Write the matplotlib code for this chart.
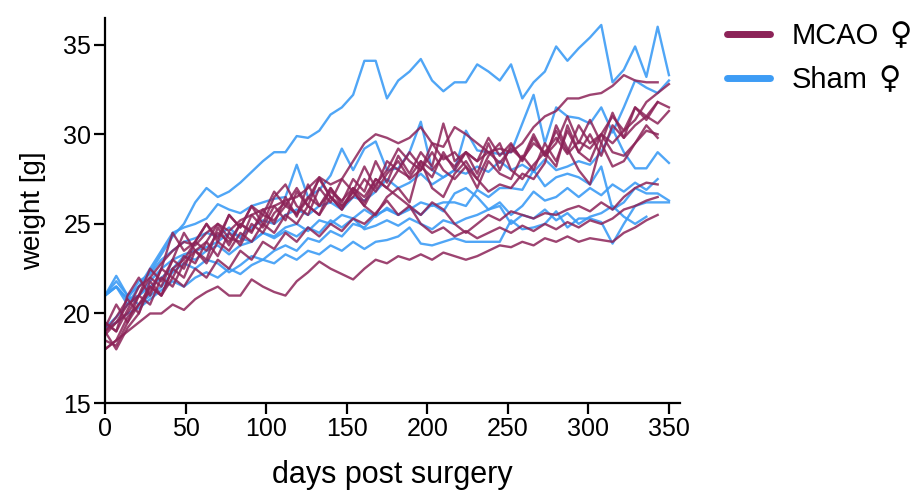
import numpy as np
import matplotlib
matplotlib.use("Agg")
import matplotlib.pyplot as plt
from matplotlib.lines import Line2D

plt.rcParams['font.family'] = ['Liberation Sans', 'DejaVu Sans']

# measurement days (weekly)
days = list(range(0, 351, 7))
nan = np.nan

# body weight [g], sham-operated females
sham = [
    [21.0, 21.8, 21.0, 21.5, 22.3, 23.3, 24.3, 25.0, 26.2, 27.0, 26.5, 26.8, 27.3, 27.9, 28.5, 29.0, 29.0,
     29.9, 29.8, 30.2, 31.1, 31.5, 32.2, 34.1, 34.1, 32.0, 33.0, 33.5, 34.2, 33.0, 32.4, 32.9, 32.9, 33.9,
     33.5, 33.0, 33.9, 32.0, 32.9, 33.5, 34.9, 34.1, 34.8, 35.4, 36.1, 32.9, 33.6, 34.9, 33.2, 36.0, 33.3],
    [21.0, 21.5, 20.5, 21.5, 22.5, 23.5, 24.5, 24.8, 25.0, 25.3, 26.1, 25.8, 25.6, 26.0, 26.2, 26.4, 26.5,
     28.3, 26.5, 26.9, 27.7, 29.2, 28.0, 29.2, 29.6, 28.0, 28.1, 29.0, 30.7, 28.0, 27.6, 28.0, 30.2, 29.1,
     29.0, 28.9, 29.0, 30.6, 32.2, 29.5, 31.5, 31.0, 30.9, 30.6, 31.5, 30.1, 31.5, 33.0, 32.6, 32.3, 33.0],
    [21.0, 21.5, 20.8, 21.0, 21.8, 22.5, 23.0, 23.3, 23.5, 23.7, 24.0, 24.5, 24.3, 24.8, 25.2, 25.0, 25.5,
     25.8, 25.5, 26.0, 26.2, 25.8, 26.5, 26.3, 26.8, 27.5, 27.0, 27.3, 27.8, 27.2, 27.6, 28.0, 27.8, 28.2,
     27.9, 28.5, 28.0, 28.3, 27.9, 28.6, 28.0, 28.2, 28.5, 28.3, 29.0, 30.3, 29.0, 28.1, 28.1, 29.0, 28.4],
    [19.2, 19.8, 20.5, 21.0, 21.5, 22.0, 22.5, 23.2, 23.0, 23.5, 23.8, 23.3, 23.8, 24.0, 24.5, 24.3, 24.8,
     25.0, 24.6, 25.2, 25.0, 25.5, 25.3, 25.8, 25.4, 25.9, 25.5, 25.8, 26.2, 26.0, 26.2, 26.2, 26.0, 26.9,
     26.5, 27.0, 27.0, 26.9, 28.0, 27.1, 27.6, 27.8, 27.6, 27.2, 28.2, 25.8, 26.2, 27.0, 26.7, 26.7, 26.3],
    [19.2, 19.5, 20.0, 20.3, 20.8, 21.3, 21.8, 21.5, 22.0, 22.3, 22.0, 22.5, 22.2, 22.7, 23.0, 22.8, 23.3,
     23.0, 23.5, 23.3, 23.8, 23.5, 24.0, 23.6, 24.0, 24.1, 24.3, 24.8, 23.9, 23.8, 24.0, 24.2, 24.0, 24.0,
     24.0, 24.0, 25.2, 24.7, 24.8, 25.0, 25.7, 24.8, 25.3, 25.3, 25.1, 23.9, 25.0, 26.0, 26.2, 26.2, 26.2],
    [21.0, 22.1, 21.0, 20.5, 21.0, 21.5, 22.3, 22.8, 22.5, 23.0, 22.8, 22.3, 22.7, 23.2, 23.0, 23.5, 23.8,
     23.5, 24.2, 24.0, 24.6, 24.3, 25.0, 24.8, 25.5, 25.8, 25.5, 25.9, 25.5, 26.1, 25.7, 26.7, 27.0, 26.5,
     25.8, 26.0, 25.0, 25.5, 25.3, 25.8, 25.2, 25.6, 25.0, 25.4, 25.6, 26.0, 25.4, 25.0, 25.4, nan, nan],
    [21.0, 21.5, 20.8, 21.8, 22.2, 23.0, 23.5, 24.0, 24.2, 24.5, 24.3, 24.8, 24.2, 24.0, 24.5, 24.2, 24.6,
     24.3, 24.8, 24.5, 25.2, 24.8, 25.3, 24.7, 24.9, 25.2, 24.9, 25.3, 25.0, 24.7, 25.2, 25.0, 25.3, 25.5,
     25.8, 26.2, 25.5, 26.0, 26.8, 26.3, 26.5, 27.0, 26.5, 27.0, 26.6, 27.2, 26.8, 27.3, 26.9, 27.5, nan],
]

# body weight [g], MCAO females
mcao = [
    [19.0, 19.5, 20.5, 21.0, 22.0, 22.8, 23.5, 24.0, 23.8, 24.5, 25.0, 24.6, 25.2, 25.5, 25.8, 26.0, 26.3,
     26.5, 27.0, 27.6, 27.2, 27.5, 28.5, 29.5, 30.0, 29.8, 29.5, 29.8, 30.4, 29.5, 29.3, 30.4, 30.0, 29.5,
     29.0, 29.2, 29.0, 29.5, 30.4, 31.0, 31.3, 32.0, 32.0, 32.2, 32.3, 32.7, 33.3, 33.0, 32.9, 32.9, nan],
    [18.5, 18.2, 19.5, 20.5, 21.5, 21.0, 22.5, 23.0, 24.0, 23.5, 24.5, 24.0, 25.0, 24.6, 25.5, 25.2, 26.0,
     25.6, 26.5, 26.0, 26.8, 26.3, 27.0, 26.5, 27.5, 27.0, 28.0, 27.6, 28.5, 28.0, 28.8, 28.2, 29.0, 28.5,
     29.0, 28.4, 29.2, 28.6, 29.5, 29.0, 29.8, 28.9, 29.6, 29.2, 30.0, 29.5, 30.2, 30.8, 31.8, 32.3, 32.8],
    [19.0, 18.0, 19.2, 20.0, 21.8, 21.0, 22.5, 22.0, 23.5, 23.0, 24.8, 23.8, 25.0, 24.5, 25.8, 25.0, 26.5,
     25.4, 27.2, 26.0, 27.0, 26.2, 27.5, 26.8, 28.5, 27.3, 28.8, 27.8, 29.0, 28.2, 30.6, 28.5, 29.0, 27.8,
     29.5, 28.0, 29.4, 28.6, 30.0, 28.8, 29.5, 31.0, 29.5, 30.8, 29.5, 31.2, 29.8, 31.5, 31.0, 31.8, 31.5],
    [19.5, 19.0, 20.2, 21.5, 22.0, 21.5, 23.0, 24.5, 23.5, 24.0, 25.0, 24.2, 24.0, 25.5, 24.8, 26.0, 25.2,
     26.8, 26.0, 25.5, 27.0, 26.0, 26.5, 27.5, 26.8, 27.8, 28.5, 27.5, 28.0, 29.0, 28.0, 27.5, 28.2, 27.0,
     28.5, 27.8, 27.5, 28.8, 28.0, 29.5, 28.5, 30.2, 29.0, 30.0, 28.8, 30.5, 29.8, 30.5, 31.0, 30.6, 31.3],
    [18.0, 18.5, 19.8, 20.5, 21.2, 22.5, 22.0, 23.2, 22.8, 24.0, 23.2, 24.5, 23.8, 25.0, 24.5, 25.6, 26.2,
     25.5, 26.4, 27.5, 26.5, 25.8, 26.8, 26.0, 25.5, 26.5, 27.0, 26.2, 28.5, 27.0, 26.5, 27.8, 28.5, 27.5,
     28.8, 29.5, 28.0, 27.5, 28.3, 29.0, 28.2, 30.5, 29.0, 28.5, 30.0, 29.0, 28.8, 29.5, 30.2, 30.0, nan],
    [19.2, 20.5, 19.5, 21.0, 22.5, 21.8, 23.0, 22.5, 24.0, 25.0, 24.0, 25.5, 24.8, 26.0, 25.0, 26.5, 27.2,
     26.0, 25.5, 27.0, 26.2, 27.5, 26.8, 26.0, 27.2, 28.0, 29.2, 28.5, 28.0, 29.5, 28.6, 29.0, 28.2, 27.5,
     26.8, 27.2, 27.0, 27.8, 27.5, 28.4, 30.5, 29.2, 28.0, 27.2, 29.5, 28.2, 28.5, 29.5, 30.5, 29.8, nan],
    [18.8, 19.5, 20.0, 21.0, 20.5, 22.0, 21.5, 22.8, 23.5, 22.8, 24.0, 23.5, 24.5, 24.0, 25.0, 24.5, 25.5,
     25.0, 26.0, 25.5, 26.5, 25.8, 27.0, 26.2, 27.5, 27.0, 26.5, 26.0, 25.5, 26.2, 25.8, 25.0, 24.5, 25.0,
     25.5, 25.2, 25.7, 25.5, 25.3, 25.6, 25.5, 25.8, 26.0, 25.7, 26.2, 25.8, 26.5, 27.0, 27.3, 27.2, nan],
    [19.0, 19.8, 20.8, 20.0, 21.5, 21.0, 22.0, 21.5, 22.5, 22.0, 23.0, 22.5, 23.5, 23.0, 24.0, 23.6, 24.5,
     24.0, 24.8, 24.3, 25.0, 24.6, 25.3, 25.0, 25.6, 26.3, 25.5, 26.0, 25.0, 24.5, 24.8, 24.3, 24.6, 24.2,
     24.5, 24.8, 24.5, 24.9, 24.6, 25.0, 24.7, 25.1, 24.8, 25.2, 25.0, 25.3, 25.8, 26.0, 26.3, 26.5, nan],
    [18.0, 18.5, 19.0, 19.5, 20.0, 20.0, 20.5, 20.2, 20.8, 21.2, 21.5, 21.0, 21.0, 21.9, 21.5, 21.2, 21.0,
     21.8, 22.3, 22.9, 22.5, 22.2, 21.9, 22.5, 23.0, 22.8, 23.2, 23.0, 23.3, 23.0, 23.4, 23.2, 23.0, 23.2,
     23.5, 23.8, 23.7, 24.0, 23.8, 24.2, 24.0, 24.3, 24.0, 24.2, 24.1, 24.0, 24.5, 24.8, 25.2, 25.5, nan],
    [19.5, 19.0, 21.0, 22.0, 21.0, 22.5, 24.5, 23.5, 24.0, 25.0, 24.2, 25.5, 24.8, 26.0, 25.5, 26.8, 26.0,
     27.0, 26.0, 27.6, 26.5, 26.0, 26.8, 28.2, 27.0, 28.5, 28.0, 29.0, 28.2, 27.6, 29.0, 28.0, 29.0, 28.5,
     29.8, 28.8, 29.5, 28.5, 29.8, 28.8, 30.2, 29.0, 30.5, 29.5, 30.0, 31.0, 30.2, 31.5, 30.8, 31.8, nan],
]

groups = ['MCAO', 'Sham']
mcao_color = '#8c2358'
sham_color = '#3d9cf5'

fig = plt.figure(figsize=(9.16, 4.94), dpi=100)
ax = fig.add_axes([0.1146, 0.184, 0.628, 0.78])

for w in sham:
    ax.plot(days, w, color=sham_color, lw=1.7, alpha=0.9)
for w in mcao:
    ax.plot(days, w, color=mcao_color, lw=1.7, alpha=0.85)

ax.set_xlim(0, 357)
ax.set_ylim(15, 36.5)
ax.set_xticks(range(0, 351, 50))
ax.set_yticks([15, 20, 25, 30, 35])
ax.spines['top'].set_visible(False)
ax.spines['right'].set_visible(False)
for s in ('left', 'bottom'):
    ax.spines[s].set_linewidth(1.6)
ax.tick_params(length=8, width=1.6, labelsize=18, pad=2)
ax.set_xlabel('days post surgery', fontsize=22, labelpad=14)
ax.set_ylabel('weight [g]', fontsize=20, labelpad=12)

handles = [Line2D([], [], color=mcao_color, lw=5, solid_capstyle='round'),
           Line2D([], [], color=sham_color, lw=5, solid_capstyle='round')]
leg = fig.legend(handles, groups, loc='upper left',
                 bbox_to_anchor=(0.778, 0.985), frameon=False, fontsize=21,
                 handlelength=1.45, handletextpad=0.75, labelspacing=0.55, borderpad=0)

# female sign after each label, drawn in DejaVu Sans (larger glyph)
fig.canvas.draw()
for txt in leg.get_texts():
    bb = txt.get_window_extent()
    x = bb.x1 / fig.bbox.width + 0.012
    y = (bb.y0 + bb.y1) / 2 / fig.bbox.height
    fig.text(x, y, '\u2640', fontsize=22, family='DejaVu Sans', ha='left', va='center')

fig.savefig('out.png', dpi=100)
